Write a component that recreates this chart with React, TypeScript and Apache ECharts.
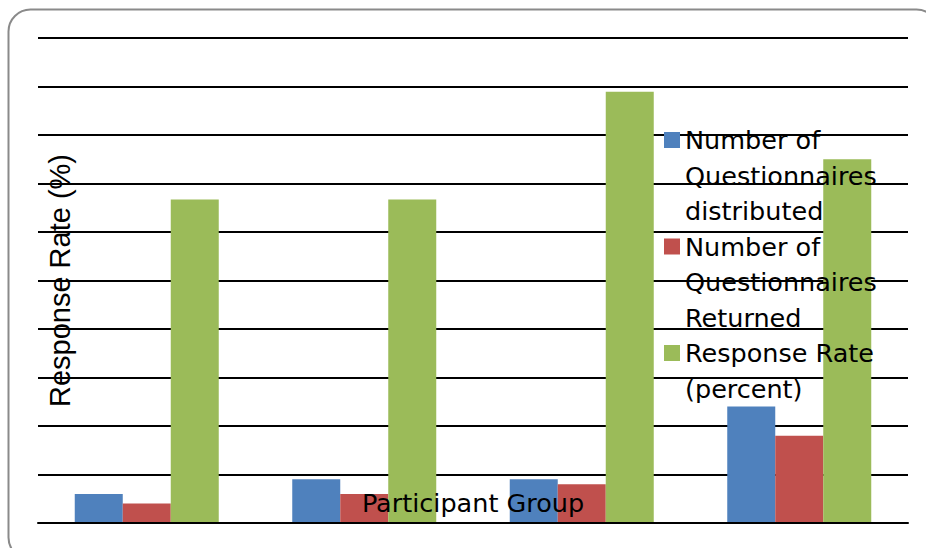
import React, { useEffect, useRef } from "react";
import * as echarts from "echarts";

// ---- data ----
const categories = ["Group 1", "Group 2", "Group 3", "Group 4"];
const distributed = [6, 9, 9, 24];
const returned = [4, 6, 8, 18];
const responseRate = [66.7, 66.7, 88.9, 75];
const seriesNames = [
  "Number of Questionnaires distributed",
  "Number of Questionnaires Returned",
  "Response Rate (percent)",
];
const legendLines = [
  ["Number of", "Questionnaires", "distributed"],
  ["Number of", "Questionnaires", "Returned"],
  ["Response Rate", "(percent)"],
];
const colors = ["#4F81BD", "#C0504D", "#9BBB59"];
const yMin = 0;
const yMax = 100;
const yInterval = 10;
const xAxisTitle = "Participant Group";
const yAxisTitle = "Response Rate (%)";

const LH = 35.5;
const LEGEND_FONT = "DejaVu Sans";

// pad each legend label with blank lines so that its first line sits level with the icon
function legendLabel(i: number): string {
  const lines = legendLines[i];
  const pad = ["", ""];
  const tail: string[] = [];
  while (lines.length + tail.length < 3) tail.push("");
  return [...pad, ...lines, ...tail].join("\n");
}

export default function App() {
  const ref = useRef<HTMLDivElement>(null);
  useEffect(() => {
    if (!ref.current) return;
    const chart = echarts.init(ref.current, null, { renderer: "svg" });
    const values = [distributed, returned, responseRate];
    chart.setOption({
      animation: false,
      backgroundColor: "#ffffff",
      grid: { left: 38, right: 18, top: 38, bottom: 25, containLabel: false },
      graphic: [
        {
          type: "rect",
          z: -10,
          silent: true,
          shape: { x: 8.5, y: 9.5, width: 930, height: 550, r: 22 },
          style: { fill: "none", stroke: "#8a8a8a", lineWidth: 2 },
        },
      ],
      legend: {
        orient: "vertical",
        left: 664,
        top: 140 - 2.5 * LH,
        padding: 0,
        itemWidth: 16,
        itemHeight: 16,
        itemGap: 106.5 - 5 * LH,
        icon: "rect",
        selectedMode: false,
        textStyle: {
          fontFamily: LEGEND_FONT,
          fontSize: 25.5,
          color: "#000",
          lineHeight: LH,
        },
        formatter: (name: string) => legendLabel(seriesNames.indexOf(name)),
        data: seriesNames,
      },
      xAxis: {
        type: "category",
        data: categories,
        z: 10,
        name: xAxisTitle,
        nameLocation: "middle",
        nameGap: -20,
        nameTextStyle: {
          fontFamily: LEGEND_FONT,
          fontSize: 25.5,
          color: "#000",
          verticalAlign: "middle",
        },
        axisLine: { show: true, lineStyle: { color: "#000", width: 2 } },
        axisTick: { show: false },
        axisLabel: { show: false },
      },
      yAxis: {
        type: "value",
        min: yMin,
        max: yMax,
        interval: yInterval,
        name: yAxisTitle,
        nameLocation: "middle",
        nameGap: -22,
        nameTextStyle: {
          fontFamily: "Liberation Sans",
          fontSize: 29,
          color: "#000",
          verticalAlign: "middle",
        },
        axisLine: { show: false },
        axisTick: { show: false },
        axisLabel: { show: false },
        splitLine: { show: true, lineStyle: { color: "#000", width: 2 } },
      },
      series: seriesNames.map((n, i) => ({
        name: n,
        type: "bar",
        data: values[i],
        barWidth: 48,
        barGap: "0%",
        itemStyle: { color: colors[i] },
      })),
    });
    return () => chart.dispose();
  }, []);
  return (
    <div
      ref={ref}
      style={{ position: "absolute", left: 0, top: 0, width: 926, height: 548, background: "#fff" }}
    />
  );
}
